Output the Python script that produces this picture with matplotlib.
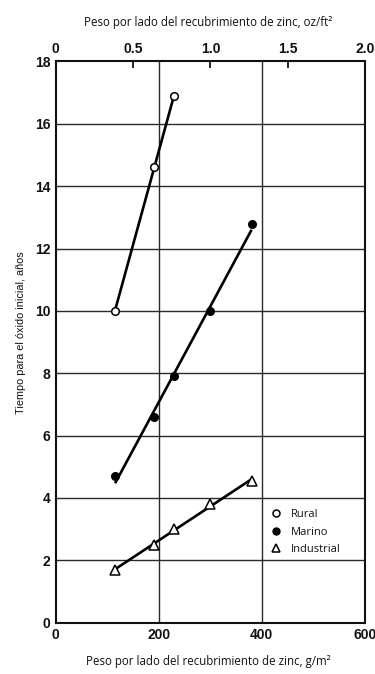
import numpy as np
import matplotlib
matplotlib.use("Agg")
import matplotlib.pyplot as plt
from matplotlib.lines import Line2D

# Zinc coating weight per side (g/m^2) and time to first rust (years)
rural_x = [115, 190, 230]
rural_y = [10.0, 14.6, 16.9]

marino_x = [115, 190, 230, 300, 380]
marino_y = [4.7, 6.6, 7.9, 10.0, 12.8]

industrial_x = [115, 190, 230, 300, 380]
industrial_y = [1.7, 2.5, 3.0, 3.8, 4.55]

series_labels = ["Rural", "Marino", "Industrial"]

x_ticks = [0, 200, 400, 600]
y_ticks = list(range(0, 19, 2))
top_ticks = [0, 0.5, 1.0, 1.5, 2.0]
top_tick_labels = ["0", "0.5", "1.0", "1.5", "2.0"]

title_font = ["Open Sans", "DejaVu Sans"]
ylabel_font = ["Liberation Sans", "DejaVu Sans"]
tick_font = ["Liberation Sans Narrow", "Liberation Sans", "DejaVu Sans"]

fig = plt.figure(figsize=(3.75, 6.74), dpi=100)
ax = fig.add_axes([0.149, 0.0761, 0.824, 0.8327])

ax.set_xlim(0, 600)
ax.set_ylim(0, 18)

# grid
for gx in [200, 400]:
    ax.axvline(gx, color="#2a2a2a", lw=1.0, zorder=1)
for gy in range(2, 18, 2):
    ax.axhline(gy, color="#2a2a2a", lw=1.0, zorder=1)

def fit_line(xs, ys):
    k, b = np.polyfit(xs, ys, 1)
    xx = np.array([min(xs), max(xs)])
    return xx, k * xx + b

lw = 1.9
for xs, ys in [(rural_x, rural_y), (marino_x, marino_y), (industrial_x, industrial_y)]:
    lx, ly = fit_line(xs, ys)
    ax.plot(lx, ly, color="black", lw=lw, zorder=2, solid_capstyle="butt")

ax.plot(rural_x, rural_y, ls="none", marker="o", ms=5.5, mfc="white",
        mec="black", mew=1.1, zorder=3)
ax.plot(marino_x, marino_y, ls="none", marker="o", ms=5.5, mfc="black",
        mec="black", mew=1.0, zorder=3)
ax.plot(industrial_x, industrial_y, ls="none", marker="^", ms=6.5, mfc="white",
        mec="black", mew=1.1, zorder=3)

for s in ax.spines.values():
    s.set_linewidth(1.5)
    s.set_color("#111111")

ax.set_xticks(x_ticks)
ax.set_yticks(y_ticks)
ax.tick_params(axis="both", length=0, pad=4)
for lab in ax.get_xticklabels() + ax.get_yticklabels():
    lab.set_family(tick_font)
    lab.set_fontsize(10)
    lab.set_fontweight("bold")
    lab.set_color("#111111")

# secondary axis in oz/ft^2
sec = ax.secondary_xaxis("top", functions=(lambda v: v / 300.0, lambda v: v * 300.0))
sec.set_xticks(top_ticks)
sec.set_xticklabels(top_tick_labels)
sec.tick_params(axis="x", direction="in", length=5, width=1.2, pad=4)
sec.spines["top"].set_visible(False)
for lab in sec.get_xticklabels():
    lab.set_family(tick_font)
    lab.set_fontsize(10)
    lab.set_fontweight("bold")
    lab.set_color("#111111")

fig.text(0.555, 0.967, "Peso por lado del recubrimiento de zinc, oz/ft²",
         ha="center", va="center", fontsize=8.3, family=title_font, color="#111111")
fig.text(0.555, 0.018, "Peso por lado del recubrimiento de zinc, g/m²",
         ha="center", va="center", fontsize=8.3, family=title_font, color="#111111")
fig.text(0.055, 0.507, "Tiempo para el óxido inicial, años", rotation=90,
         ha="center", va="center", fontsize=7.8, family=ylabel_font, color="#111111")

handles = [
    Line2D([], [], ls="none", marker="o", ms=5, mfc="white", mec="black", mew=1.1),
    Line2D([], [], ls="none", marker="o", ms=5, mfc="black", mec="black"),
    Line2D([], [], ls="none", marker="^", ms=5.5, mfc="white", mec="black", mew=1.1),
]
leg = ax.legend(handles, series_labels, loc="upper left",
                bbox_to_anchor=(0.675, 0.212), frameon=False, borderpad=0,
                handlelength=1.0, handletextpad=0.9, labelspacing=0.58,
                prop={"family": title_font, "size": 8})
for t in leg.get_texts():
    t.set_color("#111111")

fig.savefig("out.png", dpi=100, facecolor="white")
